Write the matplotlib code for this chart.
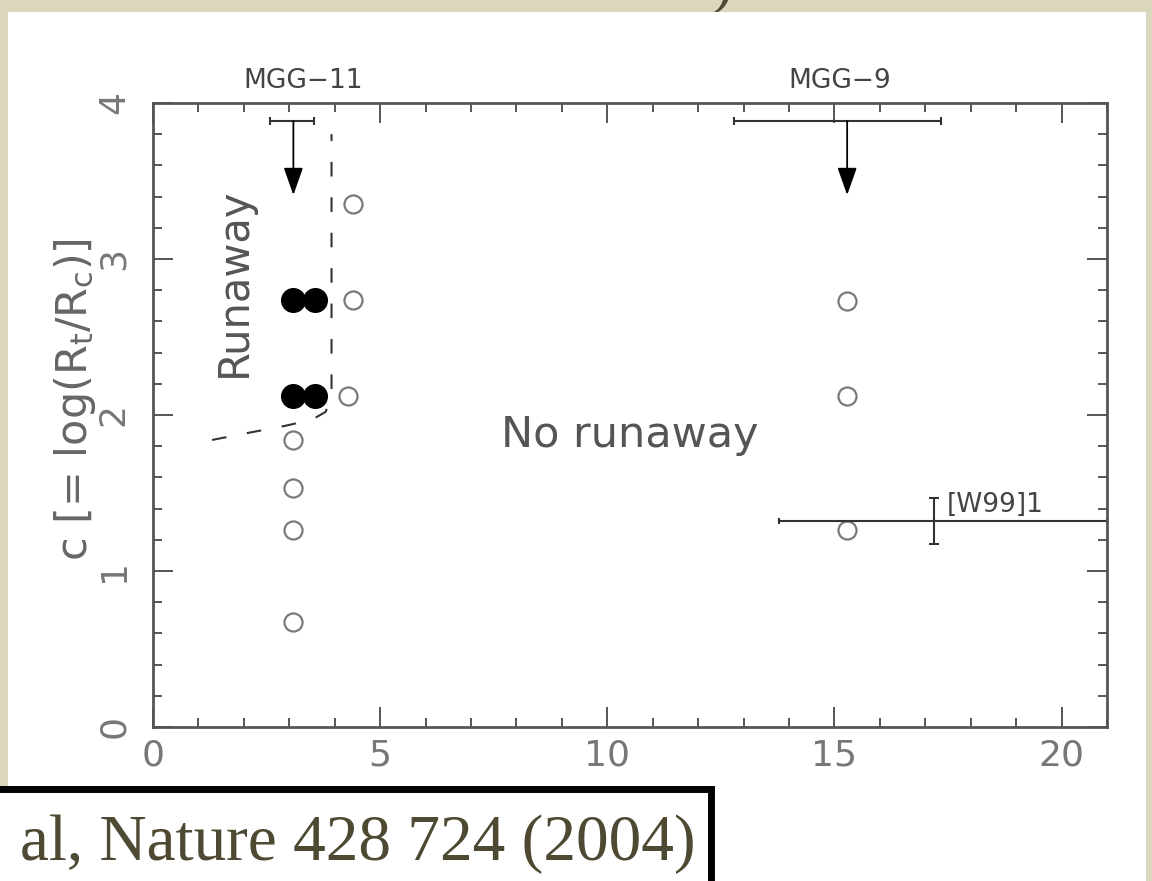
import matplotlib.pyplot as plt
from matplotlib.patches import Rectangle
from matplotlib.ticker import MultipleLocator

plt.rcParams['font.family'] = ['DejaVu Sans']

# concentration c of the model clusters; filled = runaway collisions
runaway_x = [3.09, 3.57, 3.09, 3.57]
runaway_y = [2.74, 2.74, 2.12, 2.12]
quiet_x = [4.4, 4.4, 4.3, 3.09, 3.09, 3.09, 3.09, 15.28, 15.28, 15.28]
quiet_y = [3.35, 2.74, 2.12, 1.84, 1.53, 1.26, 0.67, 2.73, 2.12, 1.26]

# observed clusters with upper limits on c
limit_names = ['MGG−11', 'MGG−9']
limit_x = [3.09, 15.28]
limit_xlo = [0.52, 2.48]
limit_xhi = [0.46, 2.07]
limit_y = [3.885, 3.885]
limit_tip = [3.41, 3.41]
limit_label_x = [3.31, 15.11]

# [W99]1 measurement
w99_x = 17.2
w99_y = 1.32
w99_xlo = 3.43
w99_xhi = 3.8
w99_yerr = 0.15

# boundary of the runaway region
edge_x = [1.3, 2.0, 2.9, 3.5, 3.8, 3.93, 3.93]
edge_y = [1.84, 1.88, 1.93, 1.97, 2.02, 2.12, 3.80]

W, H = 1152, 881
fig = plt.figure(figsize=(W / 100, H / 100), dpi=100, facecolor='#dad7bd')

# bit of the slide title poking in at the top
fig.text(0.618, 1.0, ')', fontsize=46, family='Liberation Serif',
         color='#4e4932', va='baseline', zorder=0.5)
fig.add_artist(Rectangle((8 / W, 0), (1146 - 8) / W, (H - 12) / H,
                         transform=fig.transFigure, facecolor='white',
                         edgecolor='none', zorder=1))

ax = fig.add_axes([153 / W, 1 - 727 / H, (1107 - 153) / W, (727 - 103) / H])
ax.set_zorder(2)

ax.plot(quiet_x, quiet_y, 'o', ms=13, mfc='none', mec='#7a7a7a', mew=1.6, ls='none')
ax.plot(runaway_x, runaway_y, 'o', ms=17, color='black', ls='none')

ax.plot(edge_x, edge_y, color='#333333', lw=1.5, dashes=(7, 10))

ax.errorbar(limit_x, limit_y, xerr=[limit_xlo, limit_xhi], fmt='none',
            ecolor='#333333', elinewidth=1.5, capsize=3, capthick=1.5)
for name, x, y, tip, lx in zip(limit_names, limit_x, limit_y, limit_tip, limit_label_x):
    ax.annotate('', xy=(x, tip), xytext=(x, y),
                arrowprops=dict(arrowstyle='-|>,head_length=0.85,head_width=0.3',
                                color='black', lw=1.3, shrinkA=0, shrinkB=0,
                                mutation_scale=20))
    ax.text(lx, 4.14, name, ha='center', va='center', fontsize=19,
            color='#444444', clip_on=False)

ax.errorbar([w99_x], [w99_y], xerr=[[w99_xlo], [w99_xhi]], fmt='none',
            ecolor='#333333', elinewidth=1.5, capsize=2, capthick=1.5)
ax.errorbar([w99_x], [w99_y], yerr=w99_yerr, fmt='none',
            ecolor='#333333', elinewidth=1.5, capsize=3.5, capthick=1.5)
ax.text(17.48, 1.378, '[W99]1', ha='left', va='baseline', fontsize=19, color='#444444')

ax.text(10.5, 1.795, 'No runaway', ha='center', va='baseline', fontsize=31, color='#555555')
ax.text(1.78, 2.85, 'Runaway', rotation=90, ha='center', va='center',
        fontsize=30, color='#555555')

ax.set_xlim(0, 21)
ax.set_ylim(0, 4)
ax.xaxis.set_major_locator(MultipleLocator(5))
ax.xaxis.set_minor_locator(MultipleLocator(1))
ax.yaxis.set_major_locator(MultipleLocator(1))
ax.yaxis.set_minor_locator(MultipleLocator(0.2))
ax.tick_params(which='both', direction='in', top=True, right=True,
               color='#555555', width=1.4, labelcolor='#777777', labelsize=26)
ax.tick_params(which='major', length=14.4)
ax.tick_params(which='minor', length=6.5)
ax.tick_params(axis='x', pad=8)
ax.tick_params(axis='y', pad=16, labelrotation=90)
for lab in ax.get_yticklabels():
    lab.set_va('center')
for s in ax.spines.values():
    s.set_color('#555555')
    s.set_linewidth(2)

ax.set_ylabel(r'c [= log(R$_{\rm t}$/R$_{\rm c}$)]', fontsize=31, color='#666666')
ax.yaxis.set_label_coords(-0.058, 0.524)

# citation box in the lower left corner
fig.add_artist(Rectangle((-0.02, -0.02), 0.617 + 0.02, 0.104 + 0.02,
                         transform=fig.transFigure, facecolor='white',
                         edgecolor='black', lw=5, zorder=3))
fig.text(20 / W, (H - 860) / H, 'al, Nature 428 724 (2004)', family='Liberation Serif',
         fontsize=47, color='#4e4932', va='baseline', zorder=4)

fig.savefig('out.png', dpi=100, facecolor=fig.get_facecolor())
